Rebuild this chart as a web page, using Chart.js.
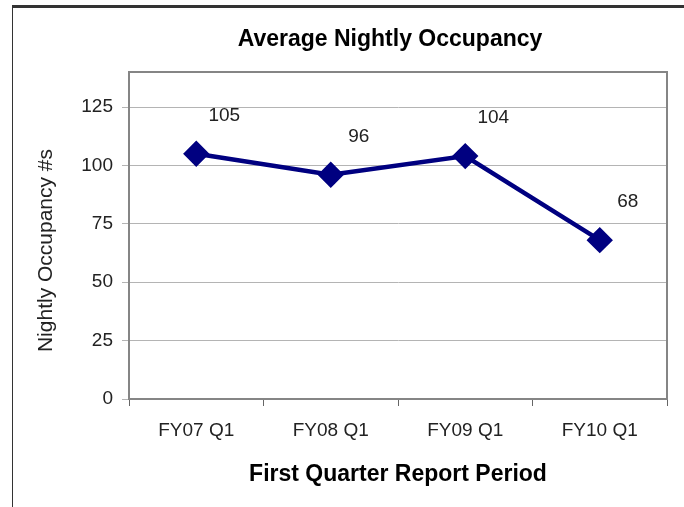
<!DOCTYPE html>
<html>
<head>
<meta charset="utf-8">
<script src="https://cdn.jsdelivr.net/npm/chart.js@4"></script>
<style>
  html, body { margin: 0; padding: 0; background: #fff; }
  #wrap { position: relative; width: 684px; height: 507px; overflow: hidden; }
  #frame {
    position: absolute; left: 12px; top: 5px; width: 700px; height: 600px;
    border-top: 3px solid #333; border-left: 1px solid #333;
  }
  canvas { position: absolute; left: 0; top: 0; }
</style>
</head>
<body>
<div id="wrap">
  <div id="frame"></div>
  <canvas id="chart" width="684" height="507"></canvas>
</div>
<script>
const periods = ['FY07 Q1', 'FY08 Q1', 'FY09 Q1', 'FY10 Q1'];
const occupancy = [105, 96, 104, 68];
const yTicks = [0, 25, 50, 75, 100, 125];

const chartTitle = 'Average Nightly Occupancy';
const yTitle = 'Nightly Occupancy #s';
const xTitle = 'First Quarter Report Period';

const fontFamily = '"Liberation Sans", Arial, Helvetica, sans-serif';

// gray box around the plot area
const plotBox = {
    id: 'plotBox',
    afterDraw(chart) {
        const { ctx, chartArea: a } = chart;
        ctx.save();
        ctx.strokeStyle = '#858585';
        ctx.lineWidth = 2;
        ctx.strokeRect(a.left, a.top, a.right - a.left, a.bottom - a.top);
        ctx.restore();
    }
};

// chart title and y title sit a little off centre in the original
const titles = {
    id: 'titles',
    afterDraw(chart) {
        const { ctx, chartArea: a } = chart;
        ctx.save();
        ctx.textAlign = 'center';
        ctx.textBaseline = 'middle';
        ctx.fillStyle = '#000';
        ctx.font = 'bold 23px ' + fontFamily;
        ctx.fillText(chartTitle, (a.left + a.right) / 2 - 8, 40);
        ctx.fillStyle = '#222';
        ctx.font = '21px ' + fontFamily;
        ctx.translate(46, (a.top + a.bottom) / 2 + 15);
        ctx.rotate(-Math.PI / 2);
        ctx.fillText(yTitle, 0, 0);
        ctx.restore();
    }
};

// value labels up and right of each point
const valueLabels = {
    id: 'valueLabels',
    afterDatasetsDraw(chart) {
        const { ctx } = chart;
        const meta = chart.getDatasetMeta(0);
        ctx.save();
        ctx.font = '19px ' + fontFamily;
        ctx.fillStyle = '#222';
        ctx.textAlign = 'center';
        ctx.textBaseline = 'middle';
        meta.data.forEach((pt, i) => {
            ctx.fillText(String(occupancy[i]), pt.x + 28, pt.y - 38);
        });
        ctx.restore();
    }
};

new Chart(document.getElementById('chart'), {
    type: 'line',
    data: {
        labels: periods,
        datasets: [{
            data: occupancy,
            borderColor: '#000080',
            backgroundColor: '#000080',
            borderWidth: 4.5,
            pointStyle: 'rectRot',
            pointRadius: 10,
            pointHoverRadius: 10,
            tension: 0
        }]
    },
    options: {
        responsive: false,
        animation: false,
        layout: { padding: { left: 0, right: 17, top: 72, bottom: 0 } },
        plugins: {
            legend: { display: false },
            tooltip: { enabled: false },
            title: { display: false }
        },
        scales: {
            x: {
                offset: true,
                grid: { offset: true, drawOnChartArea: false, tickLength: 7, color: '#666', lineWidth: 1 },
                border: { color: '#666', width: 2 },
                ticks: { color: '#222', font: { family: fontFamily, size: 19 }, padding: 13, maxRotation: 0 },
                title: {
                    display: true,
                    text: xTitle,
                    color: '#000',
                    font: { family: fontFamily, size: 23, weight: 'bold' },
                    padding: { top: 0, bottom: 19 }
                },
                afterFit(scale) { scale.height = 108; }
            },
            y: {
                min: 0,
                max: 140,
                afterBuildTicks(scale) { scale.ticks = yTicks.map(v => ({ value: v })); },
                grid: { color: '#b4b4b4', lineWidth: 1, tickLength: 7 },
                border: { color: '#666', width: 2 },
                ticks: { color: '#222', font: { family: fontFamily, size: 19 }, padding: 9 },
                title: { display: false },
                afterFit(scale) { scale.width = 129; }
            }
        }
    },
    plugins: [plotBox, titles, valueLabels]
});
</script>
</body>
</html>
